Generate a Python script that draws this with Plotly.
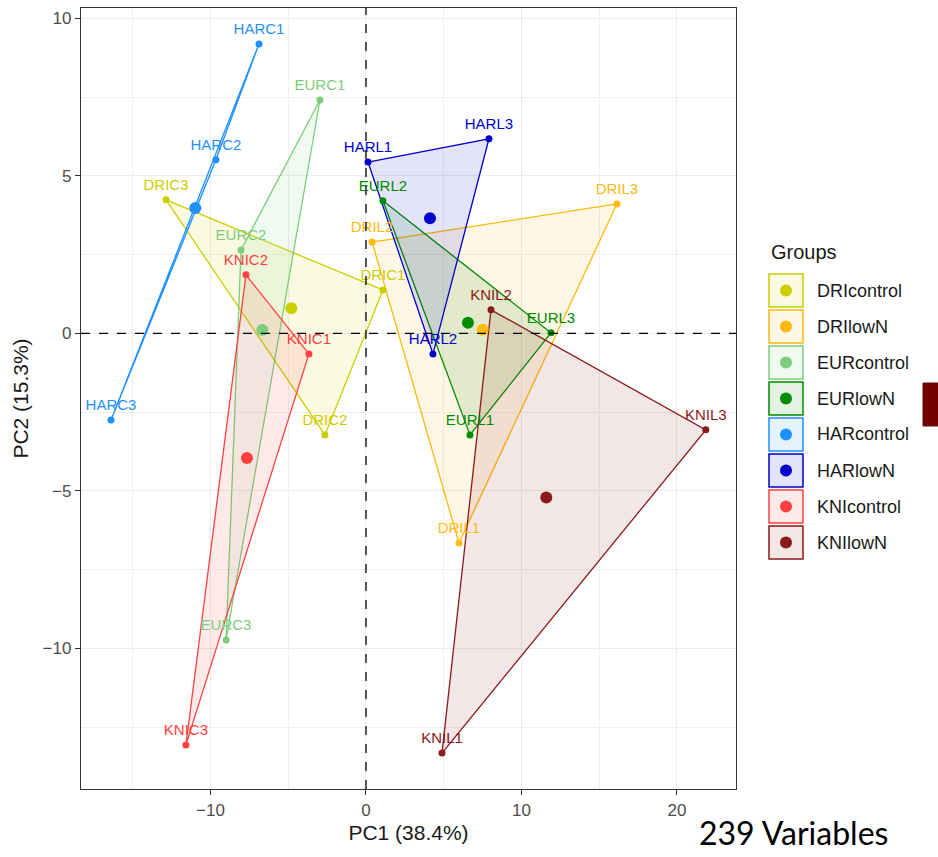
import plotly.graph_objects as go

# PCA scores per sample
samples = ["DRIC1", "DRIC2", "DRIC3",
           "DRIL1", "DRIL2", "DRIL3",
           "EURC1", "EURC2", "EURC3",
           "EURL1", "EURL2", "EURL3",
           "HARC1", "HARC2", "HARC3",
           "HARL1", "HARL2", "HARL3",
           "KNIC1", "KNIC2", "KNIC3",
           "KNIL1", "KNIL2", "KNIL3"]
groups = ["DRIcontrol"] * 3 + ["DRIlowN"] * 3 + ["EURcontrol"] * 3 + ["EURlowN"] * 3 + \
         ["HARcontrol"] * 3 + ["HARlowN"] * 3 + ["KNIcontrol"] * 3 + ["KNIlowN"] * 3
pc1 = [1.09, -2.64, -12.86,
       5.98, 0.39, 16.14,
       -2.96, -8.04, -9.00,
       6.69, 1.09, 11.90,
       -6.88, -9.65, -16.40,
       0.13, 4.31, 7.91,
       -3.67, -7.72, -11.58,
       4.89, 8.04, 21.86]
pc2 = [1.38, -3.22, 4.24,
       -6.65, 2.90, 4.11,
       7.41, 2.65, -9.73,
       -3.22, 4.21, 0.02,
       9.19, 5.51, -2.75,
       5.44, -0.65, 6.18,
       -0.65, 1.86, -13.06,
       -13.32, 0.75, -3.06]

group_names = ["DRIcontrol", "DRIlowN", "EURcontrol", "EURlowN",
               "HARcontrol", "HARlowN", "KNIcontrol", "KNIlowN"]
group_colors = ["#CDCD00", "#FFB90F", "#7CCD7C", "#008B00",
                "#1E90FF", "#0000CD", "#FF4040", "#8B1A1A"]

x_ticks = [-10, 0, 10, 20]
y_ticks = [-10, -5, 0, 5, 10]
x_title = "PC1 (38.4%)"
y_title = "PC2 (15.3%)"


def rgba(hex_color, a):
    h = hex_color.lstrip("#")
    r, g, b = int(h[0:2], 16), int(h[2:4], 16), int(h[4:6], 16)
    return f"rgba({r},{g},{b},{a})"


fig = go.Figure()

by_group = {}
for s, g, x, y in zip(samples, groups, pc1, pc2):
    by_group.setdefault(g, []).append((s, x, y))

# hull polygons
for g, col in zip(group_names, group_colors):
    pts = by_group[g]
    xs = [p[1] for p in pts] + [pts[0][1]]
    ys = [p[2] for p in pts] + [pts[0][2]]
    fig.add_trace(go.Scatter(x=xs, y=ys, mode="lines", fill="toself",
                             fillcolor=rgba(col, 0.11),
                             line=dict(color=col, width=1.3),
                             hoverinfo="skip", showlegend=False))

# reference lines through the origin
fig.add_shape(type="line", xref="x", yref="paper", x0=0, x1=0, y0=0, y1=1,
              line=dict(color="black", width=1.3, dash="dash"))
fig.add_shape(type="line", xref="paper", yref="y", x0=0, x1=1, y0=0, y1=0,
              line=dict(color="black", width=1.3, dash="dash"))

# sample points
for g, col in zip(group_names, group_colors):
    pts = by_group[g]
    fig.add_trace(go.Scatter(x=[p[1] for p in pts], y=[p[2] for p in pts],
                             mode="markers", marker=dict(color=col, size=7),
                             showlegend=False, name=g))

# group centroids
for g, col in zip(group_names, group_colors):
    pts = by_group[g]
    cx = sum(p[1] for p in pts) / len(pts)
    cy = sum(p[2] for p in pts) / len(pts)
    fig.add_trace(go.Scatter(x=[cx], y=[cy], mode="markers",
                             marker=dict(color=col, size=12),
                             showlegend=False, hoverinfo="skip"))

# sample labels (a transparent marker pushes the text up off the point)
for g, col in zip(group_names, group_colors):
    pts = by_group[g]
    fig.add_trace(go.Scatter(x=[p[1] for p in pts], y=[p[2] for p in pts],
                             mode="markers+text", text=[p[0] for p in pts],
                             marker=dict(size=8, color="rgba(0,0,0,0)"),
                             textposition="top center",
                             textfont=dict(color=col, size=15,
                                           family="Liberation Sans"),
                             showlegend=False, hoverinfo="skip"))

# legend drawn by hand: boxed keys with a dot
L, R, T, B = 81, 736, 8, 789
W, H = R - L, B - T


def px(xp):
    return (xp - L) / W


def py(yp):
    return (B - yp) / H


fig.add_annotation(text="Groups", xref="paper", yref="paper",
                   x=px(769), y=py(252), xanchor="left", yanchor="middle",
                   showarrow=False,
                   font=dict(size=20, color="#1A1A1A", family="Liberation Sans"))
for i, (g, col) in enumerate(zip(group_names, group_colors)):
    top = 274 + i * 36
    fig.add_shape(type="rect", xref="paper", yref="paper",
                  x0=px(769), x1=px(803), y0=py(top + 33), y1=py(top),
                  line=dict(color=col, width=1.5), fillcolor=rgba(col, 0.11))
    cy_ = top + 16.5
    fig.add_shape(type="circle", xref="paper", yref="paper",
                  x0=px(786 - 6), x1=px(786 + 6), y0=py(cy_ + 6), y1=py(cy_ - 6),
                  line=dict(color=col, width=0), fillcolor=col)
    fig.add_annotation(text=g, xref="paper", yref="paper",
                       x=px(815), y=py(cy_), xanchor="left", yanchor="middle",
                       showarrow=False,
                       font=dict(size=18, color="#1A1A1A", family="Liberation Sans"))

# dark marker block at the right edge
fig.add_shape(type="rect", xref="paper", yref="paper",
              x0=px(923), x1=px(940), y0=py(426), y1=py(383),
              line=dict(color="#5A1010", width=1), fillcolor="#720000")

fig.add_annotation(text="239 Variables", xref="paper", yref="paper",
                   x=px(697), y=py(833), xanchor="left", yanchor="middle",
                   showarrow=False,
                   font=dict(size=32, color="black", family="Lato"))

axis_common = dict(
    showline=True, linecolor="#333333", linewidth=1.3, mirror=True,
    ticks="outside", ticklen=5, tickcolor="#333333", tickwidth=1.3,
    showgrid=True, gridcolor="#EBEBEB", gridwidth=1.3,
    zeroline=False,
    tickfont=dict(size=17, color="#4D4D4D", family="Liberation Sans"),
    title_font=dict(size=21, color="#1A1A1A", family="Liberation Sans"),
)

fig.update_xaxes(range=[-18.33, 23.8], tickvals=x_ticks,
                 minor=dict(tickvals=[-15, -5, 5, 15], showgrid=True,
                            gridcolor="#F0F0F0", gridwidth=1, ticks=""),
                 title_text=x_title, title_standoff=6, **axis_common)
fig.update_yaxes(range=[-14.46, 10.33], tickvals=y_ticks,
                 minor=dict(tickvals=[-12.5, -7.5, -2.5, 2.5, 7.5], showgrid=True,
                            gridcolor="#F0F0F0", gridwidth=1, ticks=""),
                 title_text=y_title, title_standoff=8, **axis_common)

fig.update_layout(width=938, height=857,
                  margin=dict(l=L, r=938 - R, t=T, b=857 - B, pad=0),
                  plot_bgcolor="white", paper_bgcolor="white",
                  showlegend=False,
                  font=dict(family="Liberation Sans"))

fig.write_html("out.html")
